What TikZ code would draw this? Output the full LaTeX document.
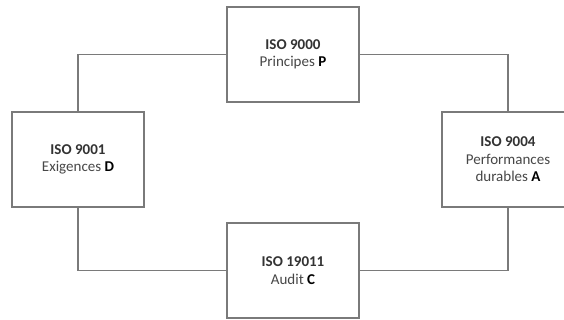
\documentclass[tikz,border=0pt]{standalone}
\usepackage{fontspec}
\setmainfont{Carlito}
\definecolor{edgegray}{HTML}{7A7A7A}
\definecolor{headtext}{HTML}{333333}
\definecolor{bodytext}{HTML}{474747}
\begin{document}
\begin{tikzpicture}[x=1pt,y=-1pt,
  isobox/.style={draw=edgegray, line width=1.3pt, fill=white,
    minimum width=132pt, minimum height=95pt, inner sep=0pt,
    align=center, text=bodytext,
    font=\fontsize{15}{17.5}\selectfont},
  link/.style={draw=edgegray, line width=1.3pt}]
  \useasboundingbox (0,0) rectangle (564,320);
  \clip (0,0) rectangle (564,320);

  % the four standards, around the cycle
  \node[isobox] (iso9000)  at (293,54.5)  {\textbf{\color{headtext}ISO 9000}\\Principes \textbf{\color{black}P}};
  \node[isobox] (iso9001)  at (78,159.5)  {\textbf{\color{headtext}ISO 9001}\\Exigences \textbf{\color{black}D}};
  \node[isobox] (iso9004)  at (508,159.5) {\textbf{\color{headtext}ISO 9004}\\Performances\\durables \textbf{\color{black}A}};
  \node[isobox] (iso19011) at (293,270.5) {\textbf{\color{headtext}ISO 19011}\\Audit \textbf{\color{black}C}};

  % elbow connectors between neighbouring boxes
  \draw[link] (iso9000.west) -| (iso9001.north);
  \draw[link] (iso9000.east) -| (iso9004.north);
  \draw[link] (iso9001.south) |- (iso19011.west);
  \draw[link] (iso9004.south) |- (iso19011.east);
\end{tikzpicture}
\end{document}
